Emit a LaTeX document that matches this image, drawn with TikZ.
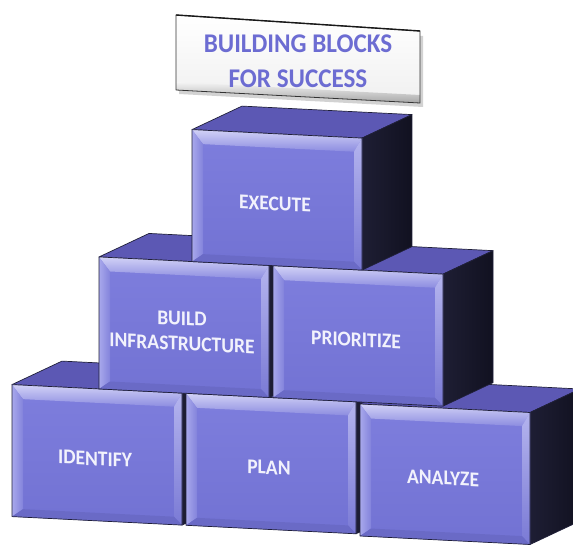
\documentclass[tikz,border=0pt]{standalone}
\usepackage{fontspec}
\setmainfont{Carlito}
\usetikzlibrary{calc}

% palette
\definecolor{frontA}{HTML}{7E7EDD}
\definecolor{frontB}{HTML}{7272D3}
\definecolor{bevTopA}{HTML}{D2D2F6}
\definecolor{bevTopB}{HTML}{8C8CE0}
\definecolor{bevLeftA}{HTML}{A8A8EC}
\definecolor{bevLeftB}{HTML}{8383DB}
\definecolor{bevRightA}{HTML}{B4B4EE}
\definecolor{bevRightB}{HTML}{7A7AD5}
\definecolor{bevBottom}{HTML}{6A6AC6}
\definecolor{topFace}{HTML}{5C58B4}
\definecolor{sideA}{HTML}{1E1E34}
\definecolor{sideB}{HTML}{111120}
\definecolor{edgeDark}{HTML}{20203A}
\definecolor{labelText}{HTML}{F2F2FC}
\definecolor{titleBlue}{HTML}{6C6CD2}

\tikzset{
  edge/.style={draw=edgeDark, line width=0.7pt, line join=round},
  lbl/.style={font=\fontsize{21}{25}\selectfont\bfseries, text=labelText,
    align=center, xscale=0.93, transform shape, inner sep=0pt},
  titletext/.style={font=\fontsize{27}{35}\selectfont\bfseries, text=titleBlue,
    align=center, xscale=0.93, inner sep=0pt},
}

% one bevelled cube: name, left x, top y, label
\newcommand\blockcube[4]{%
\begin{scope}[shift={(#2,#3)}]
  % top face
  \fill[topFace] (0,0) -- (170,0) -- (220,-26) -- (50,-26) -- cycle;
  \draw[edge] (0,0) -- (170,0) -- (220,-26) -- (50,-26) -- cycle;
  % right face
  \shade[left color=sideA, right color=sideB] (170,0) -- (220,-26) -- (220,106) -- (170,132) -- cycle;
  \draw[edge] (170,0) -- (220,-26) -- (220,106) -- (170,132) -- cycle;
  % front face with bevel
  \shade[top color=frontA, bottom color=frontB] (0,0) rectangle (170,132);
  \shade[top color=bevTopA, bottom color=bevTopB] (0,0) -- (170,0) -- (162,14) -- (11,14) -- cycle;
  \shade[left color=bevLeftA, right color=bevLeftB] (0,0) -- (11,14) -- (11,124) -- (0,132) -- cycle;
  \shade[top color=bevRightA, bottom color=bevRightB] (170,0) -- (170,132) -- (162,124) -- (162,14) -- cycle;
  \fill[bevBottom] (0,132) -- (11,124) -- (162,124) -- (170,132) -- cycle;
  \draw[edge] (0,0) rectangle (170,132);
  \node[lbl] (#1) at (83,70) {#4};
\end{scope}}

\begin{document}
\begin{tikzpicture}[x=1pt, y=-1pt]
  \fill[white] (0,0) rectangle (573,545);
  \useasboundingbox (0,0) rectangle (573,545);

  \begin{scope}[cm={1,-0.05,0,1,(0pt,0pt)}]
    % bottom row
    \blockcube{identify}{12}{384}{IDENTIFY}
    \blockcube{plan}{186}{384}{PLAN}
    \blockcube{analyze}{360}{386}{ANALYZE}
    % middle row
    \blockcube{build}{99}{252}{BUILD\\INFRASTRUCTURE}
    \blockcube{prioritize}{273}{252}{PRIORITIZE}
    % top row
    \blockcube{execute}{192}{120}{EXECUTE}
  \end{scope}

  % title plate
  \fill[black!35, opacity=0.5] (179,20) -- (423,36) -- (423,107) -- (179,94) -- cycle;
  \shade[top color=white, bottom color=black!6] (176,15) -- (420,31) -- (420,103) -- (176,90) -- cycle;
  \shade[top color=black!4, bottom color=black!35] (176,82) -- (420,95) -- (420,103) -- (176,90) -- cycle;
  \draw[draw=black!80, line width=0.8pt, line join=round] (176,15) -- (420,31) -- (420,103) -- (176,90) -- cycle;
  \draw[draw=black!90, line width=1.4pt] (176,15) -- (420,31);
  \node[titletext] (title) at (298,61) {BUILDING BLOCKS\\FOR SUCCESS};
\end{tikzpicture}
\end{document}
